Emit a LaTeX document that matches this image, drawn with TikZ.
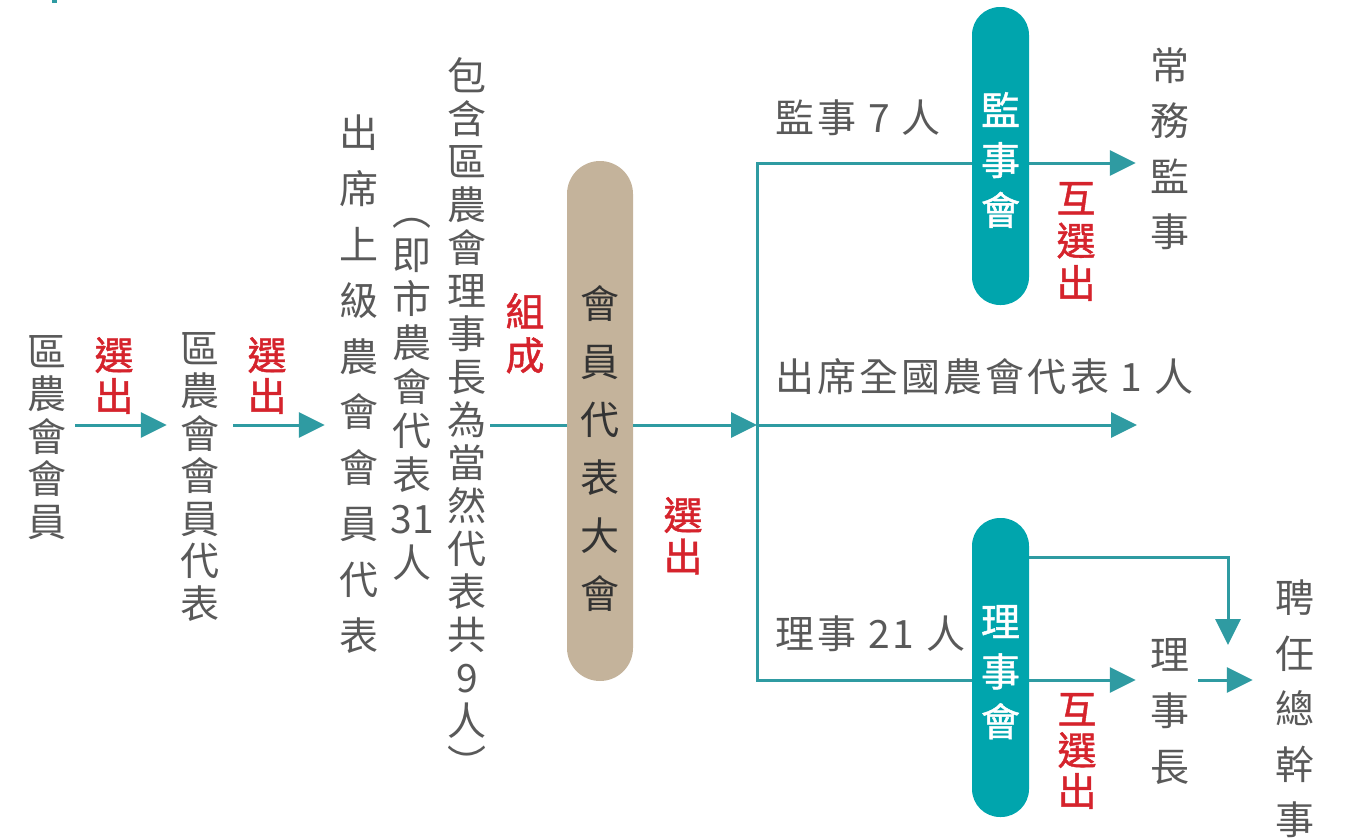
\documentclass[tikz,border=0pt]{standalone}
\usepackage{fontspec}
\setmainfont{Noto Sans CJK TC}
\newfontfamily\spaced[LetterSpace=8]{Noto Sans CJK TC}
\newfontfamily\medfont[FakeBold=1.2]{Noto Sans CJK TC}
\usetikzlibrary{arrows.meta}

\definecolor{teal1}{HTML}{00A5AD}
\definecolor{flowc}{HTML}{2F9BA2}
\definecolor{tan1}{HTML}{C4B39B}
\definecolor{red1}{HTML}{D5232C}
\definecolor{gray1}{HTML}{595959}
\definecolor{dark1}{HTML}{333333}

\begin{document}
\begin{tikzpicture}[x=1pt, y=-1pt,
    col/.style={align=center, inner sep=0pt, anchor=north, text=gray1,
      font=\fontsize{39}{#1}\selectfont},
    pick/.style={col=#1, text=red1, font=\medfont\fontsize{39}{#1}\selectfont},
    pilltext/.style={col=#1, text=white, font=\medfont\fontsize{39}{#1}\selectfont},
    lbl/.style={anchor=west, inner sep=0pt, text=gray1,
      font=\spaced\fontsize{39}{43}\selectfont},
    flow/.style={draw=flowc, line width=3pt, -{Triangle[length=26pt,width=25pt]}},
    link/.style={draw=flowc, line width=3pt},
    pill/.style={fill=teal1, rounded corners=28pt, minimum width=57pt,
      minimum height=298pt, inner sep=0pt}]
  \useasboundingbox (0,0) rectangle (1352,838);
  \fill[flowc] (52,0) rectangle (57,3);

  % columns on the left
  \node[col=42.5] (member) at (47,335) {區\\農\\會\\會\\員};
  \node[pick=41] (elect1) at (114,337) {選\\出};
  \node[col=42.5] (rep) at (200,332) {區\\農\\會\\會\\員\\代\\表};
  \node[pick=41] (elect2) at (267,337) {選\\出};
  \node[col=55.8] (upper) at (359,115) {出\\席\\上\\級\\農\\會\\會\\員\\代\\表};
  \node[col=44] (city) at (412,218) {︵\\即\\市\\農\\會\\代\\表\\31\\人};
  \node[col=43] (incl) at (467,57)
    {包\\含\\區\\農\\會\\理\\事\\長\\為\\當\\然\\代\\表\\共\\9\\人\\︶};
  \node[pick=44] (form) at (525,293) {組\\成};
  \coordinate (axis) at (0,425);

  % general assembly
  \node[fill=tan1, rounded corners=33pt, minimum width=66pt,
    minimum height=520pt, inner sep=0pt] (assembly) at (600,421) {};
  \node[col=58, text=dark1] (assemblytxt) at (600,285) {會\\員\\代\\表\\大\\會};
  \node[pick=41.5] (elect3) at (683,497) {選\\出};

  \coordinate (fork) at (757,425);
  \coordinate (forktop) at (757,163);
  \coordinate (forkbot) at (757,680);
  \coordinate (natl) at (1137,425);

  % supervisors
  \node[pill] (sup) at (1000.5,156) {};
  \node[pilltext=50] (suptxt) at (1000.5,92) {監\\事\\會};
  \node[pick=42.5] (mutual1) at (1076,182) {互\\選\\出};
  \node[col=55.5] (affairs) at (1170,47) {常\\務\\監\\事};
  \node[lbl] (supn) at (775,118) {監事 7 人};

  \node[lbl] (natn) at (775,377) {出席全國農會代表 1 人};

  % directors
  \node[pill, minimum height=299pt] (board) at (1000.5,667.5) {};
  \node[pilltext=50] (boardtxt) at (1000.5,605) {理\\事\\會};
  \node[pick=41] (mutual2) at (1077,693) {互\\選\\出};
  \node[col=56] (chair) at (1170,638) {理\\事\\長};
  \node[col=55.5] (gm) at (1295,580) {聘\\任\\總\\幹\\事};
  \node[lbl] (boardn) at (775,634) {理事 21 人};
  \coordinate (hire) at (1228,645);

  % connectors
  \draw[flow, shorten <=8.5pt, shorten >=13.5pt] (member.east |- axis) -- (rep.west |- axis);
  \draw[flow, shorten <=13.5pt, shorten >=14.5pt] (rep.east |- axis) -- (upper.west |- axis);
  \draw[link, shorten <=3.5pt] (incl.east |- axis) -- (assembly.west |- axis);
  \draw[flow] (assembly.east |- axis) -- (fork);
  \draw[link] (sup.west |- forktop) -- (forktop) -- (forkbot) -- (board.west |- forkbot);
  \draw[flow, shorten >=14.5pt] (sup.east |- forktop) -- (affairs.west |- forktop);
  \draw[flow] (fork) -- (natl);
  \draw[flow, shorten >=14.5pt] (board.east |- forkbot) -- (chair.west |- forkbot);
  \draw[flow] ([yshift=-40pt]board.north east) -| (hire);
  \draw[flow, shorten <=8.5pt, shorten >=22.5pt] (chair.east |- forkbot) -- (gm.west |- forkbot);
\end{tikzpicture}
\end{document}
